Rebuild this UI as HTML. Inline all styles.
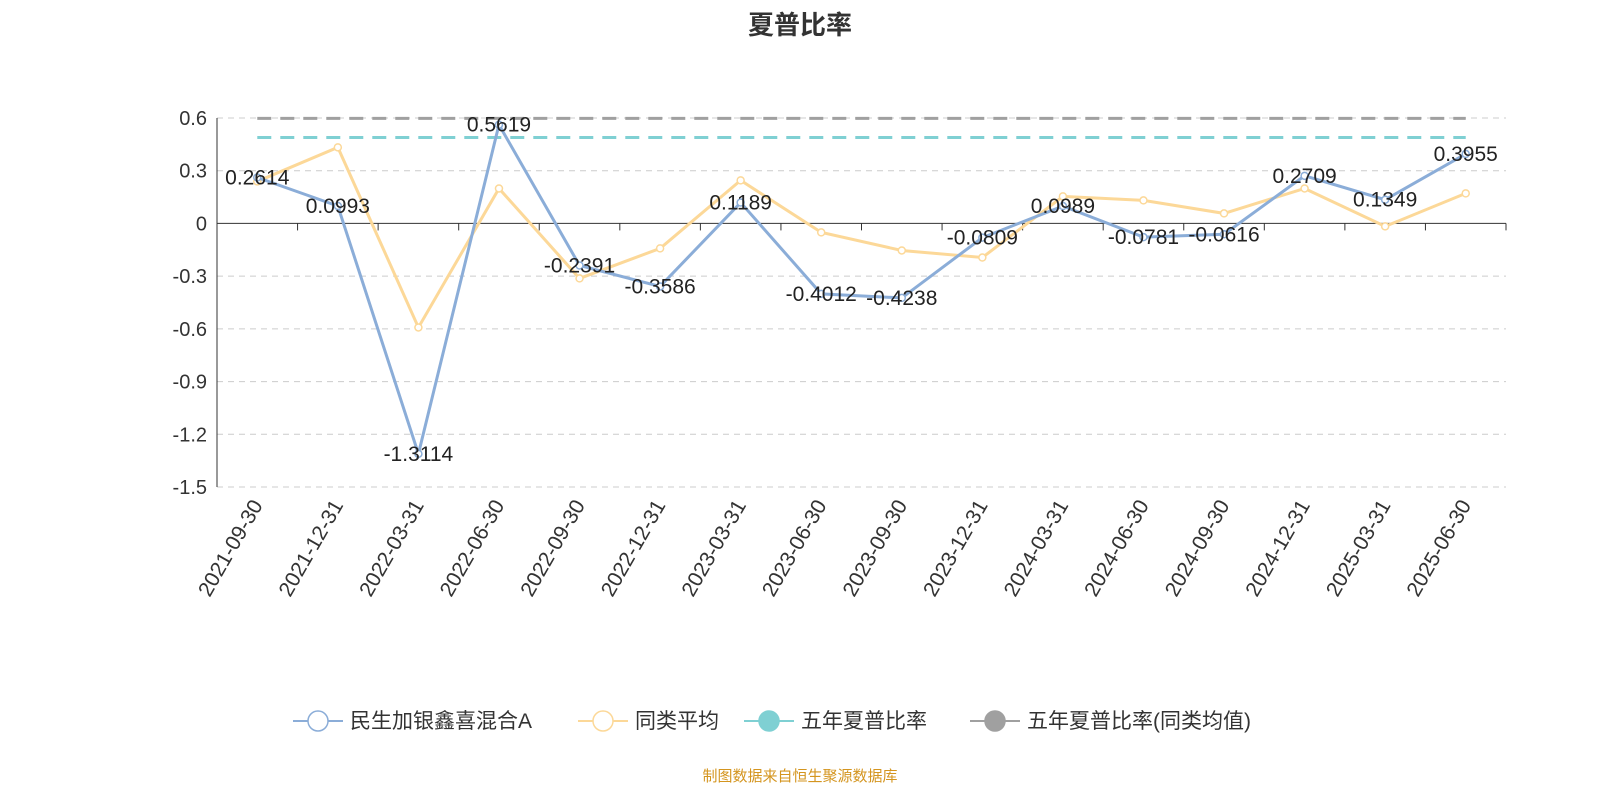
<!DOCTYPE html>
<html><head><meta charset="utf-8"><style>
body{margin:0;background:#fff;font-family:"Liberation Sans","Noto Sans CJK SC",sans-serif}
</style></head><body>
<svg id="c" width="1600" height="800" xmlns="http://www.w3.org/2000/svg" font-family="Liberation Sans, Noto Sans CJK SC, sans-serif">
<text x="800" y="34" text-anchor="middle" font-size="26" font-weight="bold" fill="#333">夏普比率</text>
<g id="grid"></g><g id="axes"></g><g id="series"></g>
<g id="legend"></g>
<text x="800" y="781" text-anchor="middle" font-size="15" fill="#d4951f">制图数据来自恒生聚源数据库</text>
</svg>
<script>
const categories=["2021-09-30","2021-12-31","2022-03-31","2022-06-30","2022-09-30","2022-12-31","2023-03-31","2023-06-30","2023-09-30","2023-12-31","2024-03-31","2024-06-30","2024-09-30","2024-12-31","2025-03-31","2025-06-30"];
const fundValues=[0.2614,0.0993,-1.3114,0.5619,-0.2391,-0.3586,0.1189,-0.4012,-0.4238,-0.0809,0.0989,-0.0781,-0.0616,0.2709,0.1349,0.3955];
const peerValues=[0.239,0.433,-0.592,0.199,-0.313,-0.142,0.245,-0.051,-0.154,-0.194,0.154,0.131,0.057,0.199,-0.017,0.171];
const fiveYearFund=0.489;
const fiveYearPeer=0.598;
const yTicks=[0.6,0.3,0,-0.3,-0.6,-0.9,-1.2,-1.5];
const NS="http://www.w3.org/2000/svg";
const X0=217,X1=1506,Y0=118,Y1=487,ymin=-1.5,ymax=0.6;
const bw=(X1-X0)/categories.length;
const xS=i=>X0+bw*(i+0.5);
const yS=v=>Y1-(v-ymin)/(ymax-ymin)*(Y1-Y0);
function mk(tag,attrs,parent,text){const e=document.createElementNS(NS,tag);for(const k in attrs)e.setAttribute(k,attrs[k]);if(text!==undefined)e.textContent=text;document.getElementById(parent).appendChild(e);return e;}
yTicks.forEach(t=>{
  const y=yS(t);
  if(t!==0){const l=mk('line',{x1:X0,x2:X1,y1:y,y2:y,stroke:'#ccc','stroke-dasharray':'6,5'},'grid');
  
  }
  const tx=mk('text',{x:X0-10,y:y+7,'text-anchor':'end','font-size':20,fill:'#333'},'axes',String(t));
  
  
});
const ya=mk('line',{x1:X0,x2:X0,y1:Y0,y2:Y1,stroke:'#333'},'axes');


const xa=mk('line',{x1:X0,x2:X1,y1:yS(0),y2:yS(0),stroke:'#333'},'axes');


for(let i=0;i<=categories.length;i++){const x=X0+bw*i;const t=mk('line',{x1:x,x2:x,y1:yS(0),y2:yS(0)+7,stroke:'#333'},'axes');

}
categories.forEach((c,i)=>{const x=xS(i)+6,y=Y1+18;
  const t=mk('text',{x:x,y:y,'text-anchor':'end','font-size':21,fill:'#333',transform:`rotate(-60 ${x} ${y})`},'axes',c);
  
  });
function hline(v,color,name){const l=mk('line',{x1:xS(0),x2:xS(categories.length-1),y1:yS(v),y2:yS(v),stroke:color,'stroke-width':3,'stroke-dasharray':'14,9'},'series');

}
hline(fiveYearPeer,'#a0a0a0','five-year-peer-line');
hline(fiveYearFund,'#7fd0d3','five-year-fund-line');
function series(vals,color,name){
  const p=mk('polyline',{points:vals.map((v,i)=>xS(i)+','+yS(v)).join(' '),fill:'none',stroke:color,'stroke-width':3},'series');
  
  
  vals.forEach((v,i)=>{const c=mk('circle',{cx:xS(i),cy:yS(v),r:3.5,fill:'#fff',stroke:color,'stroke-width':1.5},'series');
  
  });
}
series(peerValues,'#fcd898','peer-average');
series(fundValues,'#8badd8','fund');
fundValues.forEach((v,i)=>{const t=mk('text',{x:xS(i),y:yS(v)+7,'text-anchor':'middle','font-size':21,fill:'#222'},'series',String(v));

});
const leg=[["民生加银鑫喜混合A",'#8badd8',false,293],["同类平均",'#fcd898',false,578],["五年夏普比率",'#7fd0d3',true,744],["五年夏普比率(同类均值)",'#a0a0a0',true,970]];
leg.forEach(([n,c,f,x])=>{
  const l=mk('line',{x1:x,x2:x+50,y1:721,y2:721,stroke:c,'stroke-width':2},'legend');
  
  
  const ci=mk('circle',{cx:x+25,cy:721,r:10,fill:f?c:'#fff',stroke:c,'stroke-width':1.5},'legend');
  
  
  const t=mk('text',{x:x+57,y:728,'font-size':21,fill:'#333'},'legend',n);
  
  
});
</script>
</body></html>
